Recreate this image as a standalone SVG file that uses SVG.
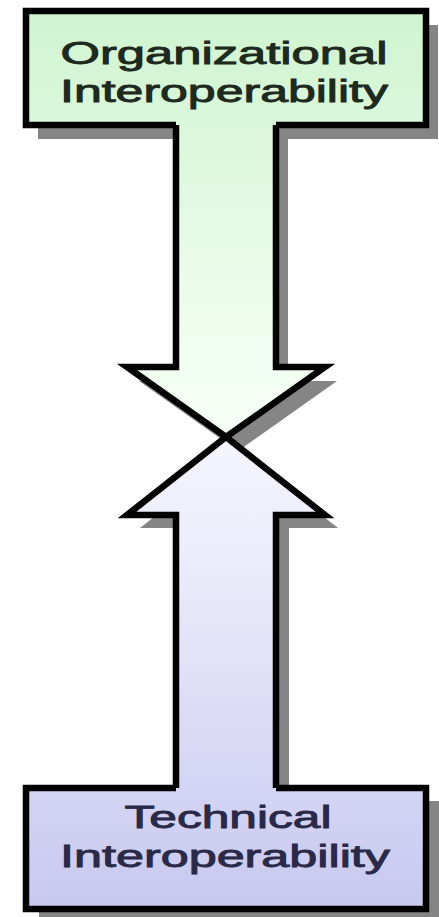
<svg xmlns="http://www.w3.org/2000/svg" width="439" height="917" viewBox="0 0 439 917">
  <defs>
    <linearGradient id="gTop" gradientUnits="userSpaceOnUse" x1="0" y1="10" x2="0" y2="437">
      <stop offset="0" stop-color="#cff4cf"/>
      <stop offset="0.3" stop-color="#dbf8db"/>
      <stop offset="0.75" stop-color="#effdef"/>
      <stop offset="1" stop-color="#f7fff7"/>
    </linearGradient>
    <linearGradient id="gBot" gradientUnits="userSpaceOnUse" x1="0" y1="910" x2="0" y2="437">
      <stop offset="0" stop-color="#c8c8ef"/>
      <stop offset="0.3" stop-color="#d6d6f5"/>
      <stop offset="0.75" stop-color="#ececfb"/>
      <stop offset="1" stop-color="#f5f5fe"/>
    </linearGradient>
    <style>
      .shadow { fill: #858585; }
      .line { stroke: #000; stroke-width: 6.5; stroke-linejoin: miter; fill: none; }
      .txt { font-family: "Liberation Sans", Arial, sans-serif; font-size: 31px; text-anchor: middle; stroke-width: 0.9; }
      .tTop { fill: #1d2a1d; stroke: #1d2a1d; }
      .tBot { fill: #2a2a48; stroke: #2a2a48; }
    </style>
  </defs>

  <g id="shadows" class="shadow">
    <path transform="translate(12,14)" d="M26,11 H426 V125 H276 V367 H325 L226,437 L127,367 H176 V125 H26 Z"/>
    <path transform="translate(13,13)" d="M26,909 H426 V788 H276 V515 H325 L226,437 L127,515 H176 V788 H26 Z"/>
  </g>

  <g id="connectors">
    <path id="arrowDown" d="M176,120 V367 H127 L226,437 L325,367 H276 V120" fill="url(#gTop)" stroke="#000" stroke-width="6.5"/>
    <path id="arrowUp" d="M176,795 V515 H127 L226,437 L325,515 H276 V795" fill="url(#gBot)" stroke="#000" stroke-width="6.5"/>
  </g>

  <g id="organizational">
    <rect x="26" y="11" width="400" height="114" fill="url(#gTop)"/>
    <path class="line" d="M176,125 H26 V11 H426 V125 H276"/>
    <text class="txt tTop" x="224" y="64" textLength="327" lengthAdjust="spacingAndGlyphs">Organizational</text>
    <text class="txt tTop" x="224" y="102" textLength="328" lengthAdjust="spacingAndGlyphs">Interoperability</text>
  </g>

  <g id="technical">
    <rect x="26" y="788" width="400" height="121" fill="url(#gBot)"/>
    <path class="line" d="M176,788 H26 V909 H426 V788 H276"/>
    <text class="txt tBot" x="228" y="828" textLength="207" lengthAdjust="spacingAndGlyphs">Technical</text>
    <text class="txt tBot" x="225" y="867" textLength="330" lengthAdjust="spacingAndGlyphs">Interoperability</text>
  </g>
</svg>
